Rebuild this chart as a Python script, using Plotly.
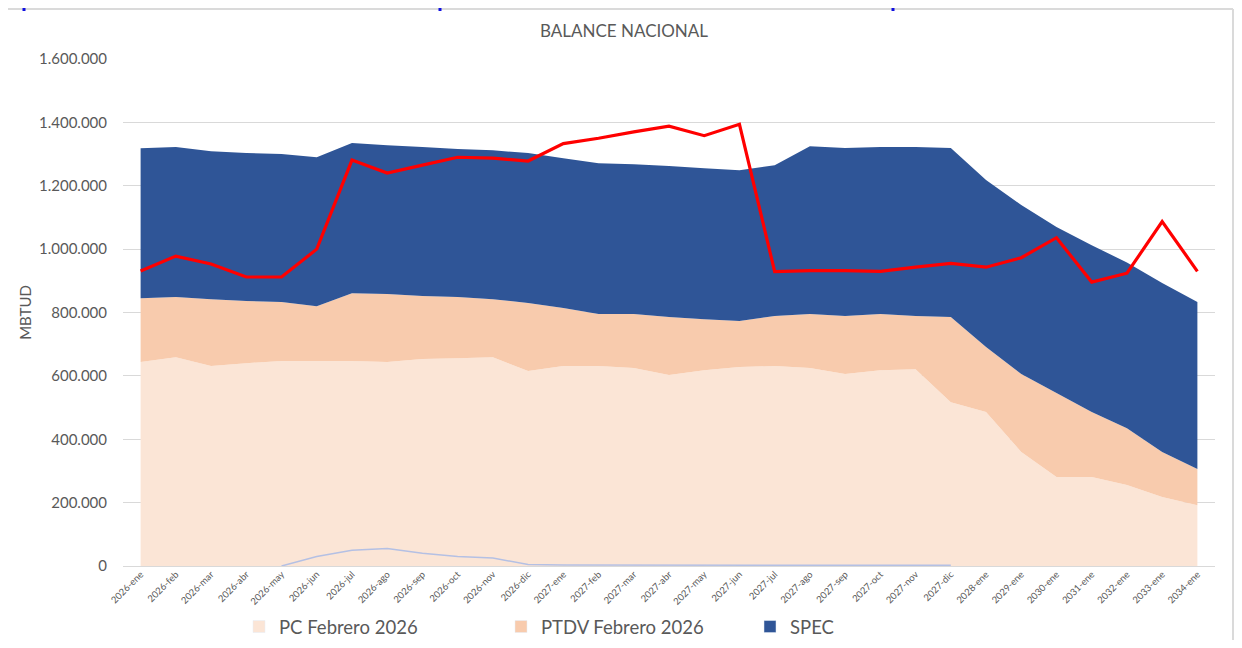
import plotly.graph_objects as go

categories = [
    "2026-ene", "2026-feb", "2026-mar", "2026-abr", "2026-may", "2026-jun",
    "2026-jul", "2026-ago", "2026-sep", "2026-oct", "2026-nov", "2026-dic",
    "2027-ene", "2027-feb", "2027-mar", "2027-abr", "2027-may", "2027-jun",
    "2027-jul", "2027-ago", "2027-sep", "2027-oct", "2027-nov", "2027-dic",
    "2028-ene", "2029-ene", "2030-ene", "2031-ene", "2032-ene", "2033-ene", "2034-ene",
]

pc_feb_2026 = [
    644000, 659000, 631000, 640000, 647000, 647000, 647000, 644000, 653000, 656000,
    659000, 615000, 631000, 631000, 625000, 603000, 618000, 628000, 631000, 625000,
    606000, 618000, 621000, 517000, 486000, 360000, 281000, 281000, 256000, 218000, 192000,
]

ptdv_feb_2026 = [
    201000, 190000, 211000, 196000, 186000, 173000, 214000, 214000, 199000, 193000,
    183000, 215000, 183000, 164000, 170000, 183000, 161000, 145000, 158000, 170000,
    183000, 177000, 168000, 269000, 205000, 246000, 265000, 205000, 179000, 142000, 114000,
]

spec = [
    473000, 473000, 467000, 467000, 467000, 470000, 474000, 470000, 470000, 467000,
    470000, 473000, 473000, 476000, 473000, 476000, 476000, 476000, 476000, 530000,
    530000, 527000, 533000, 533000, 527000, 533000, 524000, 526000, 523000, 533000, 527000,
]

demanda = [
    931000, 978000, 953000, 912000, 912000, 1000000, 1281000, 1240000, 1265000, 1290000,
    1287000, 1278000, 1333000, 1350000, 1370000, 1388000, 1358000, 1394000, 929000, 932000,
    932000, 930000, 943000, 955000, 943000, 973000, 1036000, 896000, 924000, 1087000, 930000,
]

otros = [
    None, None, None, None, 0, 30000, 50000, 55000, 40000, 30000,
    25000, 5000, 3000, 3000, 3000, 3000, 3000, 3000, 3000, 3000,
    3000, 3000, 3000, 2000, None, None, None, None, None, None, None,
]

y_ticks = [0, 200000, 400000, 600000, 800000, 1000000, 1200000, 1400000, 1600000]

FONT = "Lato, 'Open Sans', sans-serif"
GREY = "#595959"
C_PC = "#FBE5D6"
C_PTDV = "#F8CBAD"
C_SPEC = "#2F5597"

# page body has an 8px margin: figure pixel = screen pixel - 8
OFF = 8
W, H = 1242 - 2 * OFF, 648 - 2 * OFF
L, T = 123 - OFF, 59 - OFF
pw, ph = 1092, 507
R, B = W - L - pw, H - T - ph


def px_x(screen_px):
    return (screen_px - OFF - L) / pw


def px_y(screen_py):
    return (T + ph - (screen_py - OFF)) / ph


fig = go.Figure()

fig.add_trace(go.Scatter(
    x=categories, y=pc_feb_2026, name="PC Febrero 2026", stackgroup="one",
    mode="none", fillcolor=C_PC, showlegend=False, hoverinfo="skip",
))
fig.add_trace(go.Scatter(
    x=categories, y=ptdv_feb_2026, name="PTDV Febrero 2026", stackgroup="one",
    mode="none", fillcolor=C_PTDV, showlegend=False, hoverinfo="skip",
))
fig.add_trace(go.Scatter(
    x=categories, y=spec, name="SPEC", stackgroup="one",
    mode="none", fillcolor=C_SPEC, showlegend=False, hoverinfo="skip",
))
fig.add_trace(go.Scatter(
    x=categories, y=otros, mode="lines", line=dict(color="#B4C0E4", width=1.5),
    showlegend=False, connectgaps=False,
))
fig.add_trace(go.Scatter(
    x=categories, y=demanda, mode="lines", line=dict(color="#FF0000", width=3.2),
    showlegend=False,
))

# legend swatches (one legend per entry to match spacing)
legend_items = [
    ("PC Febrero 2026", C_PC, "legend", 239),
    ("PTDV Febrero 2026", C_PTDV, "legend2", 501),
    ("SPEC", C_SPEC, "legend3", 750),
]
legend_layout = {}
for name, col, lg, start_px in legend_items:
    fig.add_trace(go.Bar(x=[None], y=[None], name=name, marker_color=col,
                         showlegend=True, legend=lg))
    legend_layout[lg] = dict(
        orientation="h", x=px_x(start_px), xanchor="left", y=px_y(627), yanchor="middle",
        font=dict(size=18.5, color=GREY, family=FONT), bgcolor="rgba(0,0,0,0)",
        borderwidth=0,
    )

shapes = [
    dict(type="line", xref="paper", yref="paper", x0=px_x(OFF), x1=px_x(1233),
         y0=px_y(OFF + 1), y1=px_y(OFF + 1), line=dict(color="#DADADA", width=2)),
    dict(type="line", xref="paper", yref="paper", x0=px_x(1233), x1=px_x(1233),
         y0=px_y(OFF + 1), y1=px_y(660), line=dict(color="#DADADA", width=2)),
]
for bx in [24, 440, 893]:
    shapes.append(dict(type="rect", xref="paper", yref="paper", x0=px_x(bx - 1.5), x1=px_x(bx + 1.5),
                       y0=px_y(OFF + 3), y1=px_y(OFF), fillcolor="#1010E0", line=dict(width=0)))

fig.update_layout(
    width=W, height=H,
    margin=dict(l=L, r=R, t=T, b=B, autoexpand=False),
    paper_bgcolor="white", plot_bgcolor="white",
    separators=",.",
    font=dict(family=FONT, color=GREY),
    title=dict(text="BALANCE NACIONAL", xref="container", x=(624 - OFF) / W, xanchor="center",
               yref="container", y=1 - (31 - OFF) / H, yanchor="middle",
               font=dict(size=17, color=GREY, family=FONT)),
    showlegend=True,
    shapes=shapes,
    xaxis=dict(
        type="category", categoryorder="array", categoryarray=categories,
        range=[-0.5, len(categories) - 0.5],
        showgrid=False, zeroline=False, showline=False, automargin=False,
        tickangle=-45, tickfont=dict(size=9.5, color=GREY, family=FONT),
        ticks="", fixedrange=True,
    ),
    yaxis=dict(
        range=[0, 1600000], tickvals=y_ticks, tickformat=",d",
        showgrid=True, gridcolor="#D9D9D9", gridwidth=1,
        zeroline=True, zerolinecolor="#D9D9D9", zerolinewidth=1,
        showline=False, ticks="", ticklabelstandoff=15, automargin=False,
        tickfont=dict(size=15, color=GREY, family=FONT),
        title=dict(text="MBTUD", font=dict(size=15, color=GREY, family=FONT), standoff=3),
        fixedrange=True,
    ),
    **legend_layout,
)

fig.write_html("out.html")
